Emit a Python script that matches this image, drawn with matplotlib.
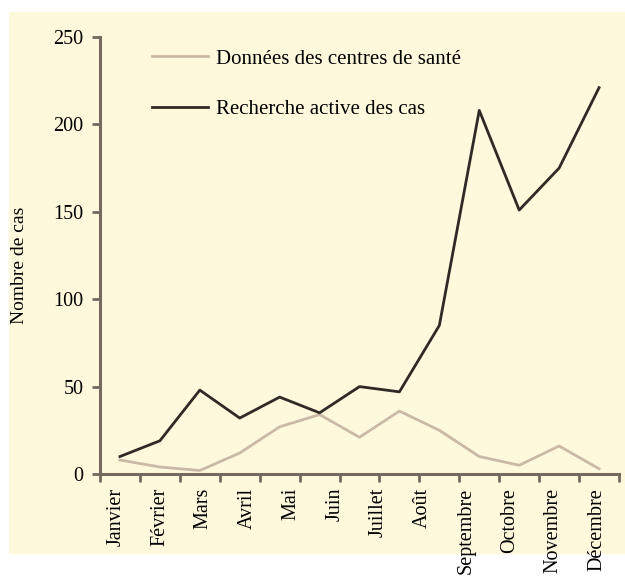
import matplotlib.pyplot as plt
from matplotlib.patches import Rectangle
import numpy as np

months = ["Janvier", "Février", "Mars", "Avril", "Mai", "Juin", "Juillet",
          "Août", "Septembre", "Octobre", "Novembre", "Décembre"]

# values (13 points per series)
centres_sante = [8, 4, 2, 12, 27, 34, 21, 36, 25, 10, 5, 16, 3]
recherche_active = [10, 19, 48, 32, 44, 35, 50, 47, 85, 208, 151, 175, 221]

bg = "#fef9dc"
axis_col = "#75685d"
dark = "#2f2a26"
light = "#cbb9a7"

plt.rcParams["font.family"] = ["Liberation Serif", "DejaVu Serif"]

fig = plt.figure(figsize=(6.25, 5.78), dpi=100)
fig.patches.append(Rectangle((9 / 625, 25 / 578), 1 - 9 / 625, 541 / 578,
                             transform=fig.transFigure, color=bg, zorder=-5))
ax = fig.add_axes([100 / 625, 104 / 578, 519 / 625, 437 / 578])
ax.set_facecolor("none")
ax.set_zorder(2)

x = np.arange(len(recherche_active)) + 0.5
ax.plot(x, centres_sante, color=light, linewidth=2.0, label="Données des centres de santé")
ax.plot(x, recherche_active, color=dark, linewidth=2.0, label="Recherche active des cas")

ax.set_xlim(0, 13)
ax.set_ylim(0, 250)
ax.set_yticks(range(0, 251, 50))
ax.set_xticks(range(0, 14))
ax.set_xticklabels([])
ax.set_xticks(np.linspace(0.4, 12.45, len(months)), minor=True)
ax.set_xticklabels(months, minor=True, rotation=90, va="top", ha="center")

for s in ["top", "right"]:
    ax.spines[s].set_visible(False)
for s in ["left", "bottom"]:
    ax.spines[s].set_color(axis_col)
    ax.spines[s].set_linewidth(2.2)

ax.tick_params(axis="both", which="major", direction="out", length=5.5, width=2,
               color=axis_col, labelsize=14.5, pad=6.5)
ax.tick_params(axis="x", which="minor", length=0, pad=10, labelsize=14.5)

ax.set_ylabel("Nombre de cas", fontsize=14)
ax.yaxis.set_label_coords(-0.139, 0.478)

fig.legend(loc="upper left", bbox_to_anchor=(152 / 625, 1 - 49 / 578), frameon=False,
           fontsize=15, handlelength=2.7, handletextpad=0.35, labelspacing=1.5,
           borderpad=0, borderaxespad=0)

fig.savefig("out.png", dpi=100)
